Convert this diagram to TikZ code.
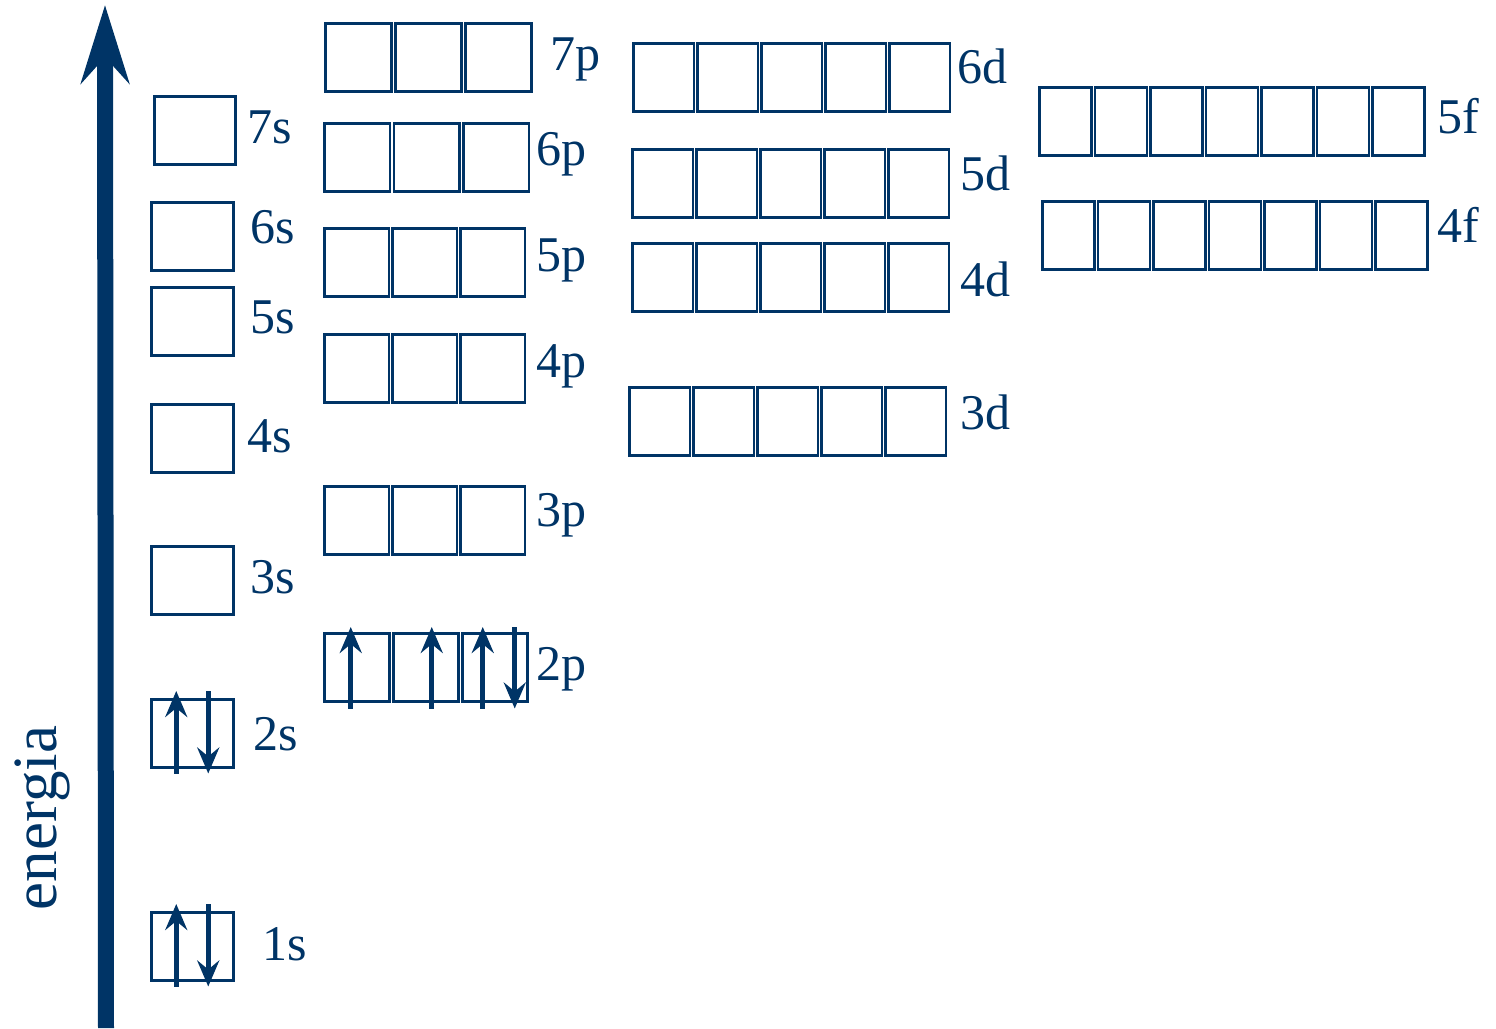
\documentclass[tikz,border=0pt]{standalone}
\usepackage{fontspec}
\setmainfont{Liberation Serif}
\usetikzlibrary{arrows.meta}
\definecolor{navy}{HTML}{003466}
\tikzset{
  orbbox/.style={draw=navy, line width=2.5pt, inner sep=0pt,
    minimum height=68pt, anchor=north west},
  orblabel/.style={text=navy, font=\fontsize{50}{60}\selectfont, anchor=base, inner sep=0pt},
  electron/.style={draw=navy, line width=5pt,
    -{Stealth[length=26pt, width=22pt, inset=9pt]}},
  axisline/.style={draw=navy, line width=16pt,
    -{Stealth[length=78pt, width=48pt, inset=26pt]}},
}
\begin{document}
\begin{tikzpicture}[x=1pt, y=-1pt]
  \useasboundingbox (0,0) rectangle (1496,1028);
  % energy axis
  \coordinate (axbot) at (106,1028);
  \coordinate (axtop) at (105,5);
  \draw[axisline] (axbot) -- (axtop);
  \node[text=navy, font=\fontsize{63}{70}\selectfont, rotate=90] (energy) at (42,818) {energia};
  % orbitals: name/x/y/boxes/width/step/label x/label baseline
  \foreach \nm/\x/\y/\n/\w/\s/\lx/\ly in {
      7s/153/95/1/81/0/270/143, 6s/150/201/1/82/0/273/243, 5s/150/286/1/82/0/273/333,
      4s/150/403/1/82/0/270/452, 3s/150/545/1/82/0/273/593, 2s/150/698/1/82/0/276/750,
      1s/150/911/1/82/0/285/960,
      7p/324/22/3/66/70/575/70, 6p/323/122/3/65.5/69.5/561/165, 5p/323/227/3/64.5/68/561/271,
      4p/323/333/3/64.5/68/561/377, 3p/323/485/3/64.5/68/561/526, 2p/323/632/3/65/69/561/680,
      6d/632/42/5/60.5/64/982/83, 5d/631/148/5/60.5/64/985/190,
      4d/631/242/5/60.5/64/985/296, 3d/628/386/5/60.5/64/985/429,
      5f/1038/86/7/52/55.5/1458/133, 4f/1041/200/7/52/55.5/1458/242}{
    \foreach \k in {1,...,\n}
      \node[orbbox, minimum width=\w pt] (\nm-\k) at ({\x+(\k-1)*\s}, \y) {};
    \node[orblabel] (\nm-lbl) at (\lx,\ly) {\nm};
  }
  % electrons
  \foreach \b in {1s-1,2s-1}{
    \draw[electron] ([xshift=-16pt,yshift=-5pt]\b.south) -- ([xshift=-16pt,yshift=7pt]\b.north);
    \draw[electron] ([xshift=16pt,yshift=7pt]\b.north) -- ([xshift=16pt,yshift=-5pt]\b.south);
  }
  \foreach \b/\dx in {2p-1/-6, 2p-2/6, 2p-3/-12}
    \draw[electron] ([xshift=\dx pt,yshift=-6pt]\b.south) -- ([xshift=\dx pt,yshift=5pt]\b.north);
  \draw[electron] ([xshift=20pt,yshift=5pt]2p-3.north) -- ([xshift=20pt,yshift=-6pt]2p-3.south);
\end{tikzpicture}
\end{document}
